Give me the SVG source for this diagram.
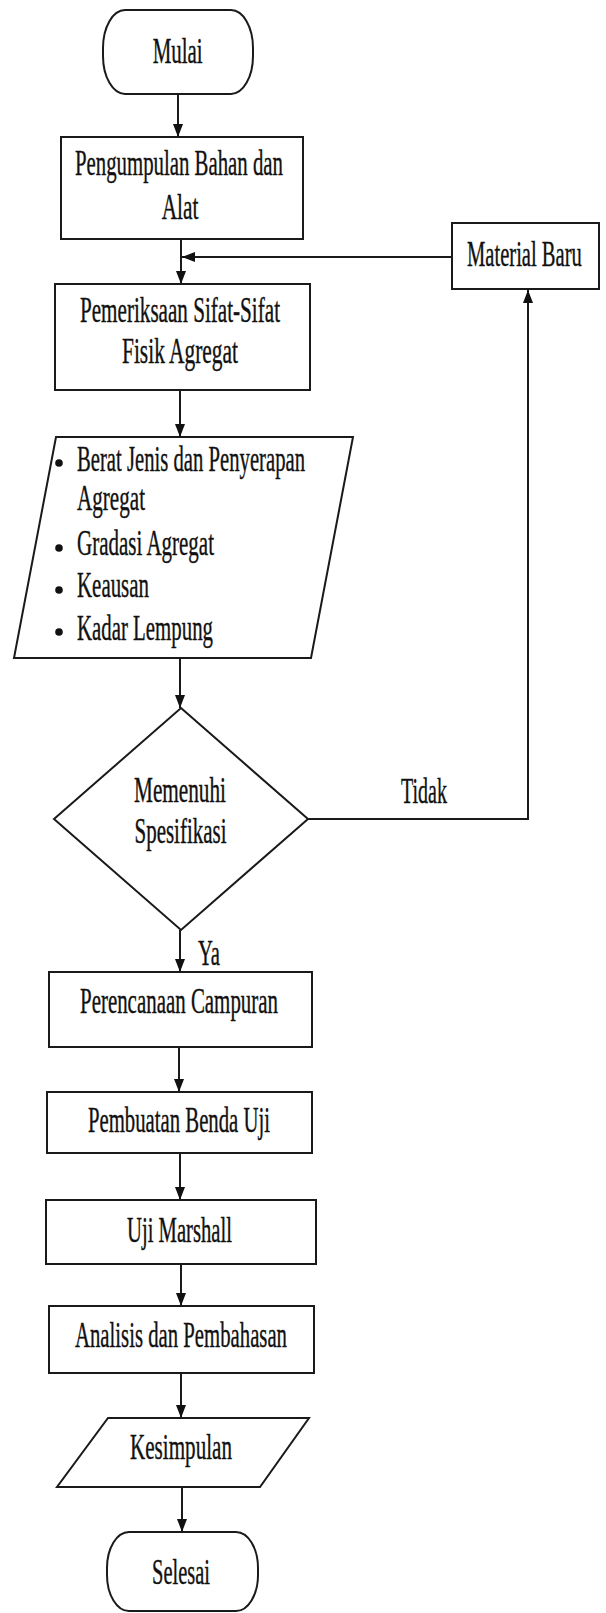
<svg xmlns="http://www.w3.org/2000/svg" width="606" height="1613" viewBox="0 0 606 1613">
<style>
.s{fill:#fff;stroke:#1a1a1a;stroke-width:2}
.c{fill:none;stroke:#1a1a1a;stroke-width:2}
text{font-family:'Liberation Serif','DejaVu Serif',serif;font-size:36px;fill:#111;stroke:#111;stroke-width:0.4}
</style>
<defs>
<marker id="ah" markerWidth="13" markerHeight="10" refX="13" refY="5" orient="auto" markerUnits="userSpaceOnUse">
<path d="M0,0 L13,5 L0,10 z" fill="#111"/>
</marker>
</defs>
<rect width="606" height="1613" fill="#fff"/>
<g id="connectors">
<line class="c" x1="178" y1="94" x2="178" y2="137" marker-end="url(#ah)"/>
<line class="c" x1="181" y1="239" x2="181" y2="284" marker-end="url(#ah)"/>
<line class="c" x1="452" y1="257" x2="182" y2="257" marker-end="url(#ah)"/>
<line class="c" x1="180" y1="390" x2="180" y2="437" marker-end="url(#ah)"/>
<line class="c" x1="180" y1="658" x2="180" y2="708" marker-end="url(#ah)"/>
<polyline class="c" points="308,819 528,819 528,290" marker-end="url(#ah)"/>
<line class="c" x1="180" y1="930" x2="180" y2="972" marker-end="url(#ah)"/>
<line class="c" x1="179" y1="1047" x2="179" y2="1092" marker-end="url(#ah)"/>
<line class="c" x1="180" y1="1153" x2="180" y2="1200" marker-end="url(#ah)"/>
<line class="c" x1="181" y1="1264" x2="181" y2="1306" marker-end="url(#ah)"/>
<line class="c" x1="181" y1="1373" x2="181" y2="1418" marker-end="url(#ah)"/>
<line class="c" x1="182" y1="1487" x2="182" y2="1532" marker-end="url(#ah)"/>
<text x="401" y="803" textLength="46" lengthAdjust="spacingAndGlyphs">Tidak</text>
<text x="198" y="965" textLength="22" lengthAdjust="spacingAndGlyphs">Ya</text>
</g>
<g id="mulai">
<rect class="s" x="103" y="10" width="150" height="84" rx="22" ry="38"/>
<text x="152.7" y="63" textLength="50" lengthAdjust="spacingAndGlyphs">Mulai</text>
</g>
<g id="pengumpulan">
<rect class="s" x="61" y="137" width="242" height="102"/>
<text x="75" y="175" textLength="208" lengthAdjust="spacingAndGlyphs">Pengumpulan Bahan dan</text>
<text x="161.7" y="219" textLength="36.7" lengthAdjust="spacingAndGlyphs">Alat</text>
</g>
<g id="material-baru">
<rect class="s" x="452" y="223" width="147" height="66"/>
<text transform="translate(467,265.7) scale(0.572,1)" x="0" y="0">Material Baru</text>
</g>
<g id="pemeriksaan">
<rect class="s" x="55" y="284" width="255" height="106"/>
<text x="80" y="322" textLength="200" lengthAdjust="spacingAndGlyphs">Pemeriksaan Sifat-Sifat</text>
<text x="122" y="363" textLength="116" lengthAdjust="spacingAndGlyphs">Fisik Agregat</text>
</g>
<g id="pengujian">
<polygon class="s" points="56,437 353,437 311,658 14,658"/>
<circle cx="59" cy="463" r="3.8" fill="#111"/>
<circle cx="59" cy="548" r="3.8" fill="#111"/>
<circle cx="59" cy="590" r="3.8" fill="#111"/>
<circle cx="59" cy="632" r="3.8" fill="#111"/>
<text x="77" y="471" textLength="228" lengthAdjust="spacingAndGlyphs">Berat Jenis dan Penyerapan</text>
<text x="77" y="510" textLength="68" lengthAdjust="spacingAndGlyphs">Agregat</text>
<text x="77" y="555" textLength="137" lengthAdjust="spacingAndGlyphs">Gradasi Agregat</text>
<text x="77" y="597" textLength="72" lengthAdjust="spacingAndGlyphs">Keausan</text>
<text x="77" y="640" textLength="136" lengthAdjust="spacingAndGlyphs">Kadar Lempung</text>
</g>
<g id="keputusan">
<polygon class="s" points="181,708 308,819 181,930 54,819"/>
<text x="134" y="802" textLength="92" lengthAdjust="spacingAndGlyphs">Memenuhi</text>
<text x="134.5" y="843" textLength="92" lengthAdjust="spacingAndGlyphs">Spesifikasi</text>
</g>
<g id="perencanaan">
<rect class="s" x="49" y="972" width="263" height="75"/>
<text x="80" y="1013" textLength="198" lengthAdjust="spacingAndGlyphs">Perencanaan Campuran</text>
</g>
<g id="pembuatan">
<rect class="s" x="47" y="1092" width="265" height="61"/>
<text x="88" y="1132" textLength="182" lengthAdjust="spacingAndGlyphs">Pembuatan Benda Uji</text>
</g>
<g id="marshall">
<rect class="s" x="46" y="1200" width="270" height="64"/>
<text x="127" y="1242" textLength="105" lengthAdjust="spacingAndGlyphs">Uji Marshall</text>
</g>
<g id="analisis">
<rect class="s" x="49" y="1306" width="265" height="67"/>
<text x="75" y="1347" textLength="212" lengthAdjust="spacingAndGlyphs">Analisis dan Pembahasan</text>
</g>
<g id="kesimpulan">
<polygon class="s" points="108,1418 309,1418 260,1487 57,1487"/>
<text x="130" y="1459" textLength="102" lengthAdjust="spacingAndGlyphs">Kesimpulan</text>
</g>
<g id="selesai">
<rect class="s" x="107" y="1532" width="151" height="79" rx="22" ry="36"/>
<text x="152" y="1584" textLength="58" lengthAdjust="spacingAndGlyphs">Selesai</text>
</g>
</svg>
